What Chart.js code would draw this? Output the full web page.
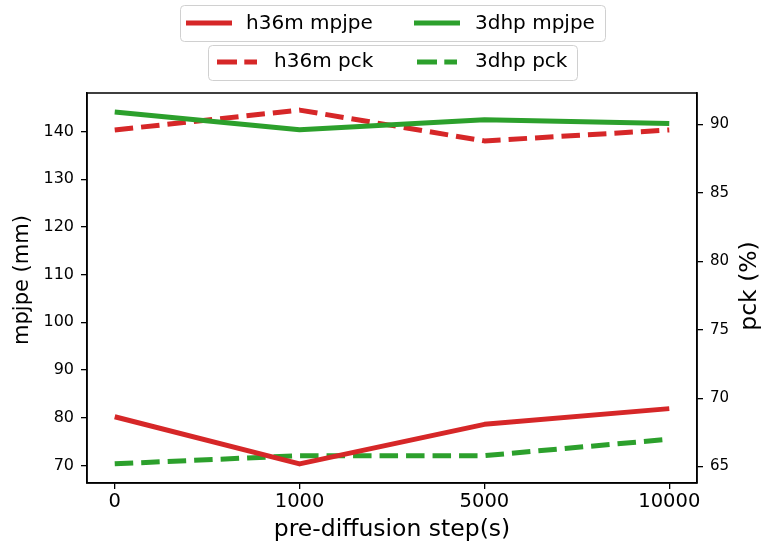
<!DOCTYPE html>
<html>
<head>
<meta charset="utf-8">
<style>
  html, body { margin: 0; padding: 0; background: #fff; }
  canvas { display: block; }
</style>
<script src="https://cdn.jsdelivr.net/npm/chart.js@4"></script>
</head>
<body>
<canvas id="chart" width="766" height="547"></canvas>
<script>
// valores
const steps = ["0", "1000", "5000", "10000"];
const h36mMpjpe = [80.2, 70.3, 78.6, 81.9];
const dhpMpjpe = [144.1, 140.4, 142.5, 141.7];
const h36mPck = [89.6, 91.05, 88.8, 89.6];
const dhpPck = [65.2, 65.8, 65.8, 67.0];
const mpjpeTicks = [70, 80, 90, 100, 110, 120, 130, 140];
const pckTicks = [65, 70, 75, 80, 85, 90];

const RED = "#d62728";
const GREEN = "#2ca02c";
const FONT = "DejaVu Sans";
const DASH = [18.5, 8];

const toPoints = (vals) => vals.map((v, i) => ({ x: i, y: v }));

// leyenda estilo matplotlib, marco, y titulos verticales
const extras = {
  id: "extras",
  afterDraw(chart) {
    const ctx = chart.ctx;
    const a = chart.chartArea;
    ctx.save();
    ctx.strokeStyle = "#000";
    ctx.lineWidth = 1.5;
    ctx.strokeRect(a.left, a.top, a.right - a.left, a.bottom - a.top);

    // titulos de los ejes y (se leen de abajo hacia arriba)
    const vTitle = (txt, x, y, size) => {
      ctx.save();
      ctx.translate(x, y);
      ctx.rotate(-Math.PI / 2);
      ctx.font = size + "px '" + FONT + "'";
      ctx.fillStyle = "#000";
      ctx.textAlign = "center";
      ctx.textBaseline = "middle";
      ctx.fillText(txt, 0, 0);
      ctx.restore();
    };
    vTitle("mpjpe (mm)", 22.5, 280, 21);
    vTitle("pck (%)", 750, (a.top + a.bottom) / 2 - 2, 23.5);

    const box = (x, y, w, h) => {
      ctx.beginPath();
      ctx.roundRect(x, y, w, h, 4);
      ctx.fillStyle = "rgba(255,255,255,0.8)";
      ctx.fill();
      ctx.strokeStyle = "#d0d0d0";
      ctx.lineWidth = 1;
      ctx.stroke();
    };
    const sample = (x1, x2, y, color, dash) => {
      ctx.beginPath();
      ctx.setLineDash(dash || []);
      ctx.moveTo(x1, y);
      ctx.lineTo(x2, y);
      ctx.strokeStyle = color;
      ctx.lineWidth = 5;
      ctx.stroke();
      ctx.setLineDash([]);
    };
    const label = (txt, x, y) => {
      ctx.font = "20px '" + FONT + "'";
      ctx.fillStyle = "#000";
      ctx.textAlign = "left";
      ctx.textBaseline = "middle";
      ctx.fillText(txt, x, y);
    };

    box(180.5, 5.5, 425, 36);
    sample(186, 232, 23, RED);
    label(chart.data.datasets[0].label, 246, 24);
    sample(414, 460, 23, GREEN);
    label(chart.data.datasets[1].label, 475, 24);

    box(208.5, 45.5, 369, 35);
    sample(217, 257, 62, RED, [20, 7.3]);
    label(chart.data.datasets[2].label, 274, 62);
    sample(417, 457, 62, GREEN, [20, 7.3]);
    label(chart.data.datasets[3].label, 475, 62);
    ctx.restore();
  }
};

const axisGrid = { drawOnChartArea: false, drawTicks: true, tickLength: 6, color: "#000", lineWidth: 1.3 };

new Chart(document.getElementById("chart"), {
  type: "line",
  data: {
    datasets: [
      { label: "h36m mpjpe", data: toPoints(h36mMpjpe), yAxisID: "y", borderColor: RED },
      { label: "3dhp mpjpe", data: toPoints(dhpMpjpe), yAxisID: "y", borderColor: GREEN },
      { label: "h36m pck", data: toPoints(h36mPck), yAxisID: "y1", borderColor: RED, borderDash: DASH },
      { label: "3dhp pck", data: toPoints(dhpPck), yAxisID: "y1", borderColor: GREEN, borderDash: DASH },
    ],
  },
  options: {
    responsive: false,
    animation: false,
    layout: { padding: { top: 93, left: 0, right: 0, bottom: 0 } },
    elements: {
      line: { borderWidth: 5, tension: 0, borderCapStyle: "butt", borderJoinStyle: "round" },
      point: { radius: 0, hoverRadius: 0 },
    },
    scales: {
      x: {
        type: "linear",
        position: "bottom",
        min: -0.15,
        max: 3.15,
        afterBuildTicks: (s) => { s.ticks = steps.map((_, i) => ({ value: i })); },
        afterFit: (s) => { s.height = 64; },
        ticks: { font: { family: FONT, size: 19.5 }, color: "#000", padding: 1, maxRotation: 0, callback: (v) => steps[v] },
        grid: axisGrid,
        border: { display: true, color: "#000", width: 1.5 },
        title: { display: true, text: "pre-diffusion step(s)", color: "#000", font: { family: FONT, size: 23.5 }, padding: { bottom: 3, top: 0 } },
      },
      y: {
        type: "linear",
        position: "left",
        min: 66.3,
        max: 148.1,
        afterBuildTicks: (s) => { s.ticks = mpjpeTicks.map((v) => ({ value: v })); },
        afterFit: (s) => { s.width = 87; },
        ticks: { font: { family: FONT, size: 16 }, color: "#000", padding: 7 },
        grid: axisGrid,
        border: { display: true, color: "#000", width: 1.5 },
      },
      y1: {
        type: "linear",
        position: "right",
        min: 63.8,
        max: 92.3,
        afterBuildTicks: (s) => { s.ticks = pckTicks.map((v) => ({ value: v })); },
        afterFit: (s) => { s.width = 69; },
        ticks: { font: { family: FONT, size: 15 }, color: "#000", padding: 7 },
        grid: axisGrid,
        border: { display: true, color: "#000", width: 1.5 },
      },
    },
    plugins: {
      legend: { display: false },
      tooltip: { enabled: false },
    },
  },
  plugins: [extras],
});
</script>
</body>
</html>
